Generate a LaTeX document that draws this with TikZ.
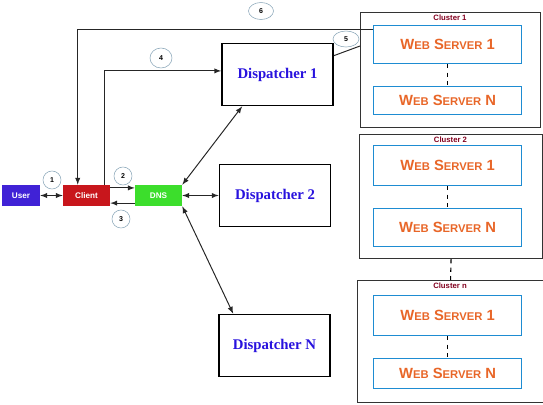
\documentclass[tikz,border=0pt]{standalone}
\usepackage{fontspec}
\setmainfont{Liberation Sans}
\newfontfamily\dispfont{Liberation Serif}
\usepackage{tikz}
\usetikzlibrary{arrows,shapes}

\definecolor{userblue}{RGB}{64,34,214}
\definecolor{clientred}{RGB}{200,22,28}
\definecolor{dnsgreen}{RGB}{60,222,44}
\definecolor{dispblue}{RGB}{40,18,222}
\definecolor{wsblue}{RGB}{30,140,210}
\definecolor{wsorange}{RGB}{232,102,40}
\definecolor{clred}{RGB}{130,0,30}
\definecolor{tagline}{RGB}{140,168,186}

\newcommand{\wsname}[1]{W{\fontsize{8}{9}\selectfont EB} S{\fontsize{8}{9}\selectfont ERVER} #1}

\begin{document}
\begin{tikzpicture}[x=0.025cm, y=-0.025cm, >=latex,
  tag/.style={draw=tagline, ellipse, inner sep=0pt, font=\fontsize{5}{5}\selectfont\bfseries},
  entry/.style={text=white, inner sep=0pt, minimum width=1.175cm, minimum height=0.525cm,
                font=\fontsize{5.8}{6}\selectfont\bfseries},
  disp/.style={draw, very thick, fill=white, minimum width=2.775cm, minimum height=1.55cm,
               text=dispblue, font=\dispfont\fontsize{10.5}{12}\selectfont\bfseries},
  cluster/.style={draw=black!80, thick, anchor=north west, inner sep=0pt},
  ws/.style={draw=wsblue, thick, anchor=north west, inner sep=0pt, text=wsorange,
             font=\fontsize{10.5}{12}\selectfont\bfseries},
  link/.style={black!85, line width=0.7pt}]

  \useasboundingbox (0,0) rectangle (543,404);

  %client side
  \node[entry, fill=userblue, minimum width=0.95cm] (user) at (21,195.5) {User};
  \node[entry, fill=clientred] (client) at (86.5,195.5) {Client};
  \node[entry, fill=dnsgreen] (dns) at (158.5,195.5) {DNS};

  %dispatchers
  \node[disp] (disp1) at (277.5,74.5) {Dispatcher 1};
  \node[disp] (disp2) at (275,195.5) {Dispatcher 2};
  \node[disp] (dispN) at (274.5,345.5) {Dispatcher N};

  %clusters
  \foreach \name/\title/\x/\y/\w/\h/\a/\b/\c/\e in {c1/Cluster 1/360/12/180/115/13/38/74/28,
                                                     c2/Cluster 2/359/134/183/124/11/40/74/38,
                                                     cn/Cluster n/357/280/186/122/15/40/78/30}{
    \node[cluster, minimum width=\w*0.025cm, minimum height=\h*0.025cm] (\name) at (\x,\y) {};
    \node[text=clred, font=\fontsize{5.5}{6}\selectfont\bfseries] (\name-title) at (\x+\w/2,\y+6) {\title};
    \node[ws, minimum width=3.7cm, minimum height=\b*0.025cm] (\name-ws1) at (373,\y+\a) {\wsname{1}};
    \node[ws, minimum width=3.7cm, minimum height=\e*0.025cm] (\name-wsN) at (373,\y+\c) {\wsname{N}};
    \draw[dashed, thick] (\name-ws1) -- (\name-wsN);
  }
  \draw[dashed, thick] (c2.south) -- (cn.north);

  %connectors
  \draw[link, <->] (user) -- (client);
  \draw[link, ->] ([yshift=0.19cm]client.east) -- ([yshift=0.19cm]dns.west);
  \draw[link, ->] ([yshift=-0.19cm]dns.west) -- ([yshift=-0.19cm]client.east);
  \draw[link, <->] (dns.north east) -- ([xshift=0.525cm]disp1.south west);
  \draw[link, <->] (dns.east) -- (disp2.west);
  \draw[link, <->] (dns.south east) -- ([xshift=0.375cm]dispN.north west);
  \draw[link, ->] ([xshift=-0.15cm]client.north east) |- ([yshift=0.09cm]disp1.west);
  \draw[link, ->] ([yshift=-0.1cm]c1-ws1.north west) -| ([xshift=0.375cm]client.north west);
  \draw[link] ([yshift=-0.325cm]disp1.north east) -- ([yshift=-0.85cm]c1.north west);

  %step tags
  \foreach \name/\num/\x/\y/\w/\h in {t1/1/52/180/18/18, t2/2/123/176/18/18, t3/3/121/219/18/18,
                                       t4/4/161/58/22/20, t5/5/346/39/26/16, t6/6/261/11/25/17}{
    \node[tag, fill=white, minimum width=\w*0.025cm, minimum height=\h*0.025cm] (\name) at (\x,\y) {\num};
  }

\end{tikzpicture}
\end{document}
